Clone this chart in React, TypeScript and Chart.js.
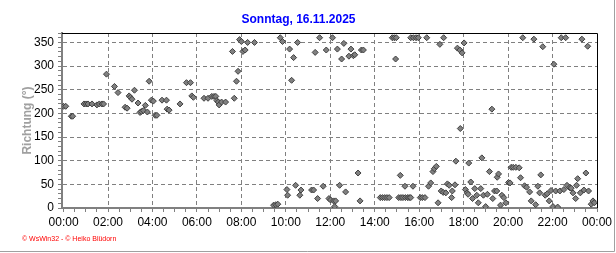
import React, { useEffect, useRef } from "react";
import { Chart, registerables } from "chart.js";

Chart.register(...registerables);

const TITLE = "Sonntag, 16.11.2025";
const Y_TITLE = "Richtung (°)";
const FOOTER = "© WsWin32 - © Heiko Blüdorn";

const X_TICK_HOURS = [0, 2, 4, 6, 8, 10, 12, 14, 16, 18, 20, 22, 24];
const Y_TICKS = [0, 50, 100, 150, 200, 250, 300, 350];

// time of day in hours
const times = [
  0.0, 0.1, 0.35, 0.41, 0.92, 1.02, 1.1, 1.28, 1.5, 1.61, 1.73, 1.8, 1.93, 2.29, 2.45, 2.77, 2.86, 2.95, 3.01, 3.08,
  3.19, 3.35, 3.44, 3.5, 3.59, 3.68, 3.77, 3.85, 3.95, 4.04, 4.12, 4.2, 4.43, 4.63, 4.66, 4.75, 5.24, 5.53, 5.71, 5.77,
  5.84, 6.32, 6.5, 6.67, 6.77, 6.85, 6.9, 6.96, 7.0, 7.11, 7.29, 7.6, 7.68, 7.78, 7.85, 7.92, 8.0, 8.07, 8.17, 8.28,
  8.59, 9.45, 9.55, 9.64, 9.75, 9.85, 10.05, 10.08, 10.17, 10.26, 10.35, 10.44, 10.53, 10.63, 10.68, 11.16, 11.25, 11.32, 11.43, 11.52,
  11.68, 11.82, 11.94, 12.01, 12.1, 12.15, 12.2, 12.24, 12.32, 12.42, 12.51, 12.61, 12.69, 12.84, 12.93, 13.04, 13.1, 13.25, 13.34, 13.4,
  13.49, 14.25, 14.35, 14.45, 14.55, 14.65, 14.79, 14.88, 14.94, 14.97, 15.08, 15.15, 15.18, 15.27, 15.36, 15.38, 15.48, 15.55, 15.62, 15.62,
  15.72, 15.74, 15.86, 15.96, 16.05, 16.14, 16.26, 16.34, 16.42, 16.52, 16.62, 16.68, 16.77, 16.85, 16.93, 16.99, 17.08, 17.1, 17.2, 17.27,
  17.35, 17.46, 17.49, 17.61, 17.65, 17.72, 17.83, 17.85, 17.93, 18.02, 18.08, 18.16, 18.2, 18.23, 18.32, 18.4, 18.5, 18.59, 18.66, 18.77,
  18.82, 18.89, 18.99, 19.07, 19.16, 19.27, 19.31, 19.39, 19.49, 19.51, 19.57, 19.66, 19.72, 19.81, 19.9, 20.02, 20.09, 20.14, 20.23, 20.35,
  20.5, 20.56, 20.66, 20.74, 20.83, 20.97, 21.04, 21.16, 21.24, 21.34, 21.42, 21.47, 21.56, 21.67, 21.76, 21.85, 21.93, 22.02, 22.06, 22.14,
  22.23, 22.33, 22.39, 22.51, 22.59, 22.65, 22.77, 22.84, 22.92, 23.04, 23.08, 23.13, 23.25, 23.32, 23.41, 23.5, 23.58, 23.62, 23.74, 23.82,
  23.88,
];

// wind direction in degrees
const directions = [
  215, 215, 194, 194, 220, 220, 220, 220, 218, 220, 220, 220, 283, 257, 244, 213, 211, 237, 234, 230,
  249, 222, 202, 204, 206, 217, 203, 268, 228, 226, 196, 196, 228, 228, 209, 207, 220, 265, 265, 237,
  234, 232, 232, 236, 236, 236, 227, 224, 218, 224, 224, 331, 232, 268, 289, 356, 352, 331, 334, 350,
  350, 6, 7, 8, 360, 352, 39, 27, 336, 270, 318, 48, 350, 27, 38, 38, 38, 329, 20, 360,
  46, 334, 20, 17, 360, 15, 3, 15, 336, 48, 315, 348, 34, 321, 336, 322, 324, 74, 15, 334,
  334, 22, 22, 22, 22, 22, 360, 360, 315, 360, 22, 69, 22, 22, 46, 22, 22, 22, 360, 22,
  46, 360, 360, 360, 22, 22, 22, 360, 46, 53, 77, 83, 88, 11, 346, 36, 33, 360, 32, 51,
  48, 22, 36, 49, 99, 338, 334, 168, 328, 349, 39, 32, 29, 95, 55, 20, 41, 27, 11, 41,
  106, 27, 3, 29, 77, 209, 20, 36, 36, 65, 72, 6, 27, 22, 11, 54, 53, 86, 86, 86,
  85, 64, 360, 47, 44, 34, 15, 357, 7, 46, 32, 70, 341, 27, 30, 15, 37, 3, 304, 36,
  2, 36, 360, 39, 360, 48, 43, 42, 32, 20, 48, 62, 32, 357, 38, 74, 342, 36, 8, 15,
  11,
];

const FONT = '"Liberation Sans", Arial, sans-serif';

const isMajorX = (v: number) => X_TICK_HOURS.some((h) => Math.abs(h - v) < 1e-6);
const isMajorY = (v: number) => Y_TICKS.some((t) => Math.abs(t - v) < 1e-6);

const decorPlugin = {
  id: "decor",
  afterDraw(chart: any) {
    const { ctx, chartArea: a } = chart;
    ctx.save();
    ctx.strokeStyle = "#000000";
    ctx.lineWidth = 1;
    ctx.beginPath();
    ctx.moveTo(a.left, Math.round(a.top) + 0.5);
    ctx.lineTo(Math.round(a.right) + 0.5, Math.round(a.top) + 0.5);
    ctx.lineTo(Math.round(a.right) + 0.5, a.bottom);
    ctx.stroke();
    ctx.strokeStyle = "#a0a0a0";
    ctx.beginPath();
    ctx.moveTo(614.5, 0);
    ctx.lineTo(614.5, 251.5);
    ctx.lineTo(0, 251.5);
    ctx.stroke();
    ctx.fillStyle = "#ff0000";
    ctx.font = "7px " + FONT;
    ctx.textBaseline = "middle";
    ctx.textAlign = "left";
    ctx.fillText(FOOTER, 22, 239);
    ctx.restore();
  },
};

export default function App() {
  const ref = useRef<HTMLCanvasElement | null>(null);

  useEffect(() => {
    if (!ref.current) return;
    const points = times.map((t, i) => ({ x: t, y: directions[i] }));
    const chart = new Chart(ref.current, {
      type: "scatter",
      data: {
        datasets: [
          {
            data: points,
            pointStyle: "rectRot",
            radius: 3,
            backgroundColor: "#808080",
            borderColor: "#404040",
            borderWidth: 1,
          },
        ],
      },
      options: {
        animation: false,
        responsive: false,
        maintainAspectRatio: false,
        layout: { padding: { left: 0, right: 19, top: 0, bottom: 0 } },
        plugins: {
          legend: { display: false },
          tooltip: { enabled: false },
          title: {
            display: true,
            text: TITLE,
            color: "#0000ff",
            font: { family: FONT, size: 12, weight: "bold" },
            padding: { top: 12, bottom: 6.6 },
          },
        },
        scales: {
          x: {
            type: "linear",
            min: -0.07,
            max: 24,
            afterFit: (s: any) => {
              s.height = 45;
            },
            ticks: {
              stepSize: 0.5,
              includeBounds: false,
              autoSkip: false,
              maxRotation: 0,
              padding: 3,
              color: "#000000",
              font: { family: FONT, size: 12 },
              callback: (v: any) => {
                const n = Number(v);
                if (!isMajorX(n)) return "";
                const h = Math.round(n) % 24;
                return (h < 10 ? "0" : "") + h + ":00";
              },
            },
            grid: {
              color: (c: any) => {
                const v = c.tick ? c.tick.value : 0;
                return isMajorX(v) && v > 0 && v < 24 ? "#808080" : "rgba(0,0,0,0)";
              },
              tickColor: "#808080",
              tickLength: 4,
              lineWidth: 1,
            },
            border: { display: true, color: "#808080", width: 2, dash: [4, 3] },
          },
          y: {
            type: "linear",
            min: 0,
            max: 370,
            afterFit: (s: any) => {
              s.width = 62;
            },
            title: {
              display: true,
              text: Y_TITLE,
              color: "#a0a0a0",
              font: { family: FONT, size: 12, weight: "bold" },
              padding: { top: 20, bottom: 0 },
            },
            ticks: {
              stepSize: 10,
              autoSkip: false,
              padding: 4,
              color: "#000000",
              font: { family: FONT, size: 12 },
              callback: (v: any) => {
                const n = Number(v);
                return isMajorY(n) ? String(Math.round(n)) : "";
              },
            },
            grid: {
              color: (c: any) => {
                const v = c.tick ? c.tick.value : 0;
                return isMajorY(v) && v > 0 ? "#808080" : "rgba(0,0,0,0)";
              },
              tickColor: "#808080",
              tickLength: 4,
              lineWidth: 1,
            },
            border: { display: true, color: "#808080", width: 2, dash: [4, 3] },
          },
        },
      } as any,
      plugins: [decorPlugin],
    });
    return () => chart.destroy();
  }, []);

  return (
    <div style={{ position: "absolute", left: 0, top: 0, width: 616, height: 253, background: "#ffffff" }}>
      <canvas ref={ref} width={616} height={253} style={{ width: 616, height: 253, display: "block" }} />
    </div>
  );
}
